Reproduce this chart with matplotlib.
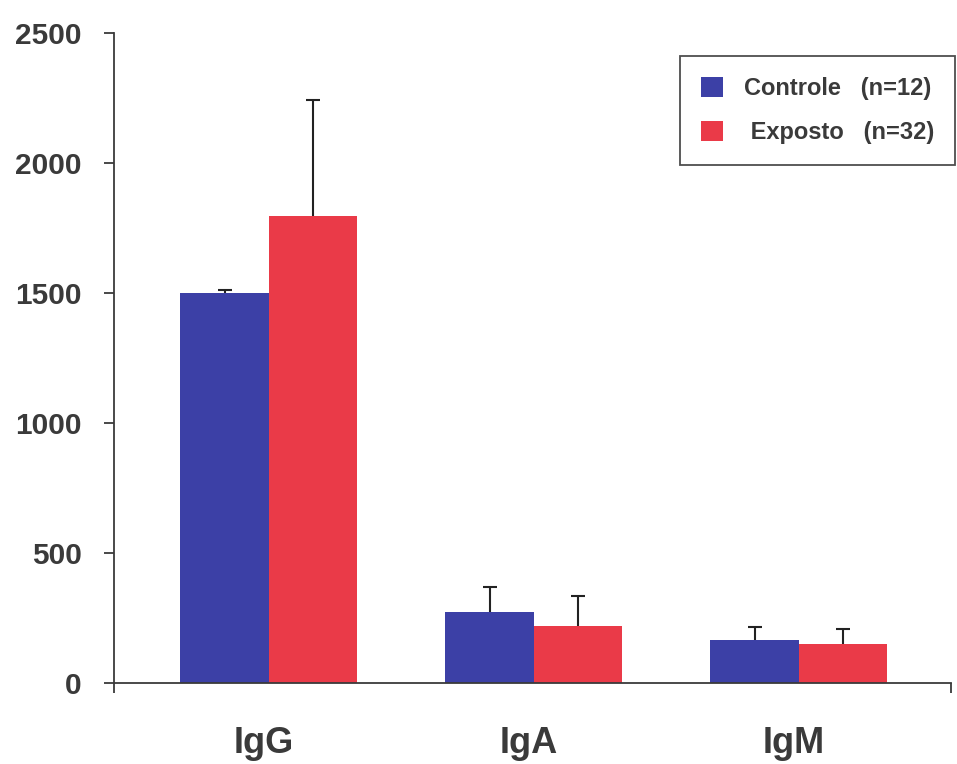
import matplotlib.pyplot as plt

plt.rcParams['font.family'] = ['Liberation Sans', 'DejaVu Sans']
plt.rcParams['font.weight'] = 'bold'

categories = ['IgG', 'IgA', 'IgM']
controle = [1500, 272, 166]
controle_err = [12, 97, 48]
exposto = [1797, 219, 151]
exposto_err = [446, 114, 56]
yticks = [0, 500, 1000, 1500, 2000, 2500]

blue = '#3c40a6'
red = '#ea3a48'
ink = '#3a3a3a'

fig = plt.figure(figsize=(9.57, 7.64), dpi=100)
ax = fig.add_axes([0.119, 0.106, 0.875, 0.851])

x = range(len(categories))
w = 0.333
xc = [i - w / 2 for i in x]
xe = [i + w / 2 for i in x]

ax.bar(xc, controle, width=w, color=blue, label='Controle   (n=12)', zorder=2)
ax.bar(xe, exposto, width=w, color=red, label=' Exposto   (n=32)', zorder=2)

# upper error bars only: hide the cap sitting on the bar top
for xs, ys, err in [(xc, controle, controle_err), (xe, exposto, exposto_err)]:
    eb = ax.errorbar(xs, ys, yerr=[[0] * len(err), err], fmt='none',
                     ecolor='#222222', elinewidth=1.5, capsize=5,
                     capthick=1.5, zorder=3)
    eb[1][0].set_visible(False)

ax.set_xlim(-0.584, 2.576)
ax.set_ylim(0, 2500)

for s in ['top', 'right']:
    ax.spines[s].set_visible(False)
for s in ['left', 'bottom']:
    ax.spines[s].set_color(ink)
    ax.spines[s].set_linewidth(1.3)

ax.set_yticks(yticks)
ax.set_yticklabels([str(v) for v in yticks], fontsize=21.5, color=ink)
ax.tick_params(axis='y', length=7, width=1.3, color=ink, pad=16)

ax.set_xticks([i - 0.02 for i in x])
ax.set_xticklabels(categories, fontsize=26, color=ink)
ax.tick_params(axis='x', which='major', length=0, pad=31)
ax.set_xticks([-0.584, 2.576], minor=True)
ax.tick_params(axis='x', which='minor', length=7, width=1.3, color=ink)

leg = ax.legend(loc='upper right', bbox_to_anchor=(1.005, 0.965), fontsize=17,
                frameon=True, fancybox=False, edgecolor='#222222',
                handlelength=0.9, handleheight=0.9, handletextpad=0.9,
                borderpad=0.9, labelspacing=0.9, borderaxespad=0)
leg.get_frame().set_linewidth(1.3)
for t in leg.get_texts():
    t.set_color(ink)

fig.savefig('out.png', dpi=100)
